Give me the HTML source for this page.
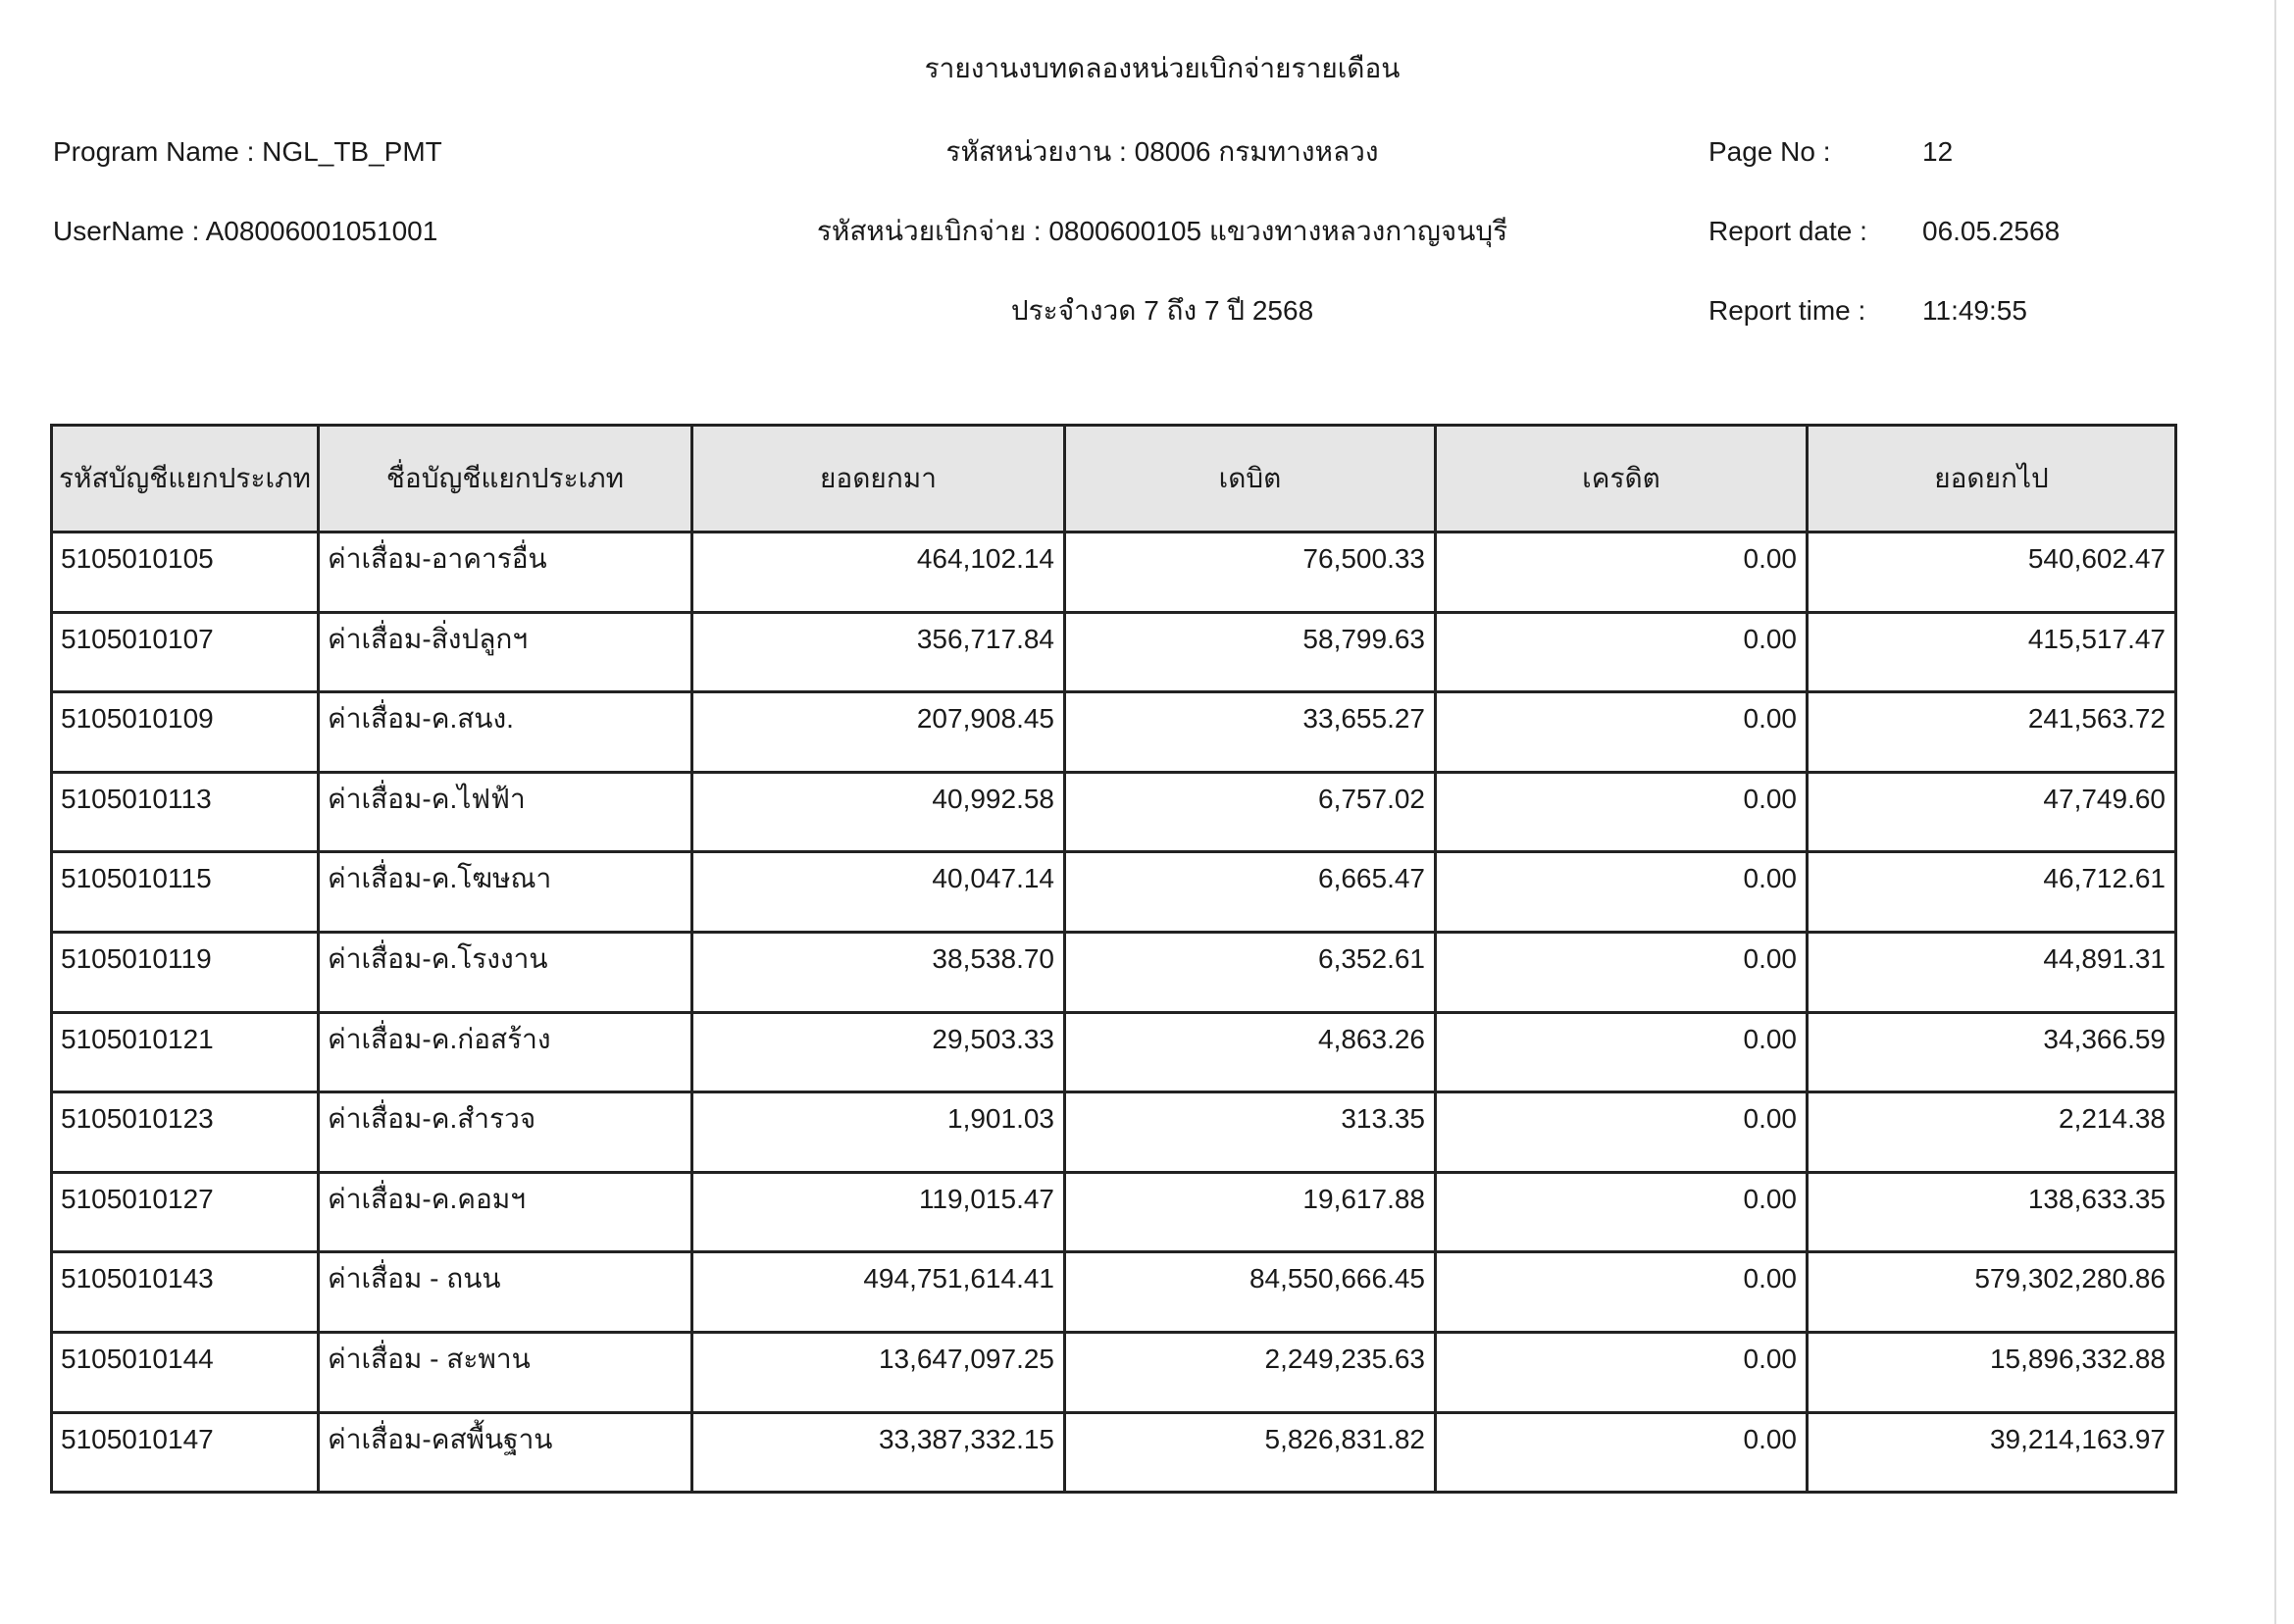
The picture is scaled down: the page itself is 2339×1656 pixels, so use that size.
<!DOCTYPE html>
<html><head><meta charset="utf-8">
<style>
html,body{margin:0;padding:0;background:#fff;}
body{width:2339px;height:1656px;position:relative;overflow:hidden;font-family:"Liberation Sans","DejaVu Sans",sans-serif;color:#1a1a1a;}
.t{position:absolute;font-size:28px;white-space:nowrap;line-height:40px;}
.c{transform:translateX(-50%);}
table{position:absolute;left:51px;top:432px;border-collapse:collapse;table-layout:fixed;width:2166px;}
td,th{border:3px solid #222;font-size:28px;font-weight:normal;padding:0;overflow:hidden;white-space:nowrap;}
th{background:#e6e6e6;height:106px;text-align:center;}
td{height:81.6px;vertical-align:top;line-height:40px;padding-top:6px;box-sizing:border-box;}
td.l{padding-left:8px;}
td.r{text-align:right;padding-right:9px;}
.edge{position:absolute;left:2319px;top:0;width:2px;height:1656px;background:#ddd;}
</style></head><body>
<div class="t c" style="left:1185px;top:50px;">รายงานงบทดลองหน่วยเบิกจ่ายรายเดือน</div>
<div class="t" style="left:54px;top:135px;">Program Name : NGL_TB_PMT</div>
<div class="t c" style="left:1185px;top:135px;">รหัสหน่วยงาน : 08006 กรมทางหลวง</div>
<div class="t" style="left:1742px;top:135px;">Page No :</div>
<div class="t" style="left:1960px;top:135px;">12</div>
<div class="t" style="left:54px;top:216px;">UserName : A08006001051001</div>
<div class="t c" style="left:1185px;top:216px;">รหัสหน่วยเบิกจ่าย : 0800600105 แขวงทางหลวงกาญจนบุรี</div>
<div class="t" style="left:1742px;top:216px;">Report date :</div>
<div class="t" style="left:1960px;top:216px;">06.05.2568</div>
<div class="t c" style="left:1185px;top:297px;">ประจำงวด 7 ถึง 7 ปี 2568</div>
<div class="t" style="left:1742px;top:297px;">Report time :</div>
<div class="t" style="left:1960px;top:297px;">11:49:55</div>
<div class="edge"></div>
<table>
<colgroup><col style="width:272px"><col style="width:381px"><col style="width:380px"><col style="width:378px"><col style="width:379px"><col style="width:376px"></colgroup>
<tr><th>รหัสบัญชีแยกประเภท</th><th>ชื่อบัญชีแยกประเภท</th><th>ยอดยกมา</th><th>เดบิต</th><th>เครดิต</th><th>ยอดยกไป</th></tr>
<tr><td class="l">5105010105</td><td class="l">ค่าเสื่อม-อาคารอื่น</td><td class="r">464,102.14</td><td class="r">76,500.33</td><td class="r">0.00</td><td class="r">540,602.47</td></tr>
<tr><td class="l">5105010107</td><td class="l">ค่าเสื่อม-สิ่งปลูกฯ</td><td class="r">356,717.84</td><td class="r">58,799.63</td><td class="r">0.00</td><td class="r">415,517.47</td></tr>
<tr><td class="l">5105010109</td><td class="l">ค่าเสื่อม-ค.สนง.</td><td class="r">207,908.45</td><td class="r">33,655.27</td><td class="r">0.00</td><td class="r">241,563.72</td></tr>
<tr><td class="l">5105010113</td><td class="l">ค่าเสื่อม-ค.ไฟฟ้า</td><td class="r">40,992.58</td><td class="r">6,757.02</td><td class="r">0.00</td><td class="r">47,749.60</td></tr>
<tr><td class="l">5105010115</td><td class="l">ค่าเสื่อม-ค.โฆษณา</td><td class="r">40,047.14</td><td class="r">6,665.47</td><td class="r">0.00</td><td class="r">46,712.61</td></tr>
<tr><td class="l">5105010119</td><td class="l">ค่าเสื่อม-ค.โรงงาน</td><td class="r">38,538.70</td><td class="r">6,352.61</td><td class="r">0.00</td><td class="r">44,891.31</td></tr>
<tr><td class="l">5105010121</td><td class="l">ค่าเสื่อม-ค.ก่อสร้าง</td><td class="r">29,503.33</td><td class="r">4,863.26</td><td class="r">0.00</td><td class="r">34,366.59</td></tr>
<tr><td class="l">5105010123</td><td class="l">ค่าเสื่อม-ค.สำรวจ</td><td class="r">1,901.03</td><td class="r">313.35</td><td class="r">0.00</td><td class="r">2,214.38</td></tr>
<tr><td class="l">5105010127</td><td class="l">ค่าเสื่อม-ค.คอมฯ</td><td class="r">119,015.47</td><td class="r">19,617.88</td><td class="r">0.00</td><td class="r">138,633.35</td></tr>
<tr><td class="l">5105010143</td><td class="l">ค่าเสื่อม - ถนน</td><td class="r">494,751,614.41</td><td class="r">84,550,666.45</td><td class="r">0.00</td><td class="r">579,302,280.86</td></tr>
<tr><td class="l">5105010144</td><td class="l">ค่าเสื่อม - สะพาน</td><td class="r">13,647,097.25</td><td class="r">2,249,235.63</td><td class="r">0.00</td><td class="r">15,896,332.88</td></tr>
<tr><td class="l">5105010147</td><td class="l">ค่าเสื่อม-คสพื้นฐาน</td><td class="r">33,387,332.15</td><td class="r">5,826,831.82</td><td class="r">0.00</td><td class="r">39,214,163.97</td></tr>
</table>
</body></html>
